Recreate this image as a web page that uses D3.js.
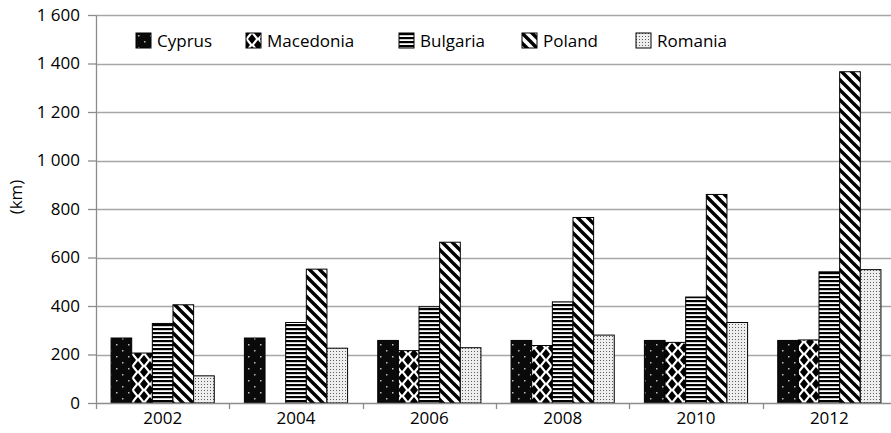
<!DOCTYPE html>
<html>
<head>
<meta charset="utf-8">
<script src="https://cdn.jsdelivr.net/npm/d3@7/dist/d3.min.js"></script>
<style>
  html, body { margin: 0; padding: 0; background: #fff; }
  svg { display: block; }
  text { font-family: "Open Sans", "Noto Sans", sans-serif; fill: #000; }
</style>
</head>
<body>
<svg id="chart" width="891" height="433"></svg>
<script>
// Length of network (km) by country and year
const years = ["2002", "2004", "2006", "2008", "2010", "2012"];
const countries = ["Cyprus", "Macedonia", "Bulgaria", "Poland", "Romania"];
const cyprus    = [268, 268, 258, 258, 258, 258];
const macedonia = [206, null, 216, 237, 250, 260];
const bulgaria  = [328, 332, 397, 417, 437, 541];
const poland    = [405, 552, 663, 765, 860, 1366];
const romania   = [112, 226, 228, 280, 332, 550];
const yTicks = [0, 200, 400, 600, 800, 1000, 1200, 1400, 1600];

(function () {
  const seriesValues = [cyprus, macedonia, bulgaria, poland, romania];
  const rows = [];
  years.forEach((yr, i) => {
    countries.forEach((c, j) => {
      const v = seriesValues[j][i];
      if (v != null) rows.push({ year: yr, country: c, value: v });
    });
  });

  const W = 891;
  const mLeft = 96, mRight = 896, mTop = 15, mBottom = 403;
  const fontSize = 17;
  const svg = d3.select("#chart");

  // Fill patterns, one per country
  const defs = svg.append("defs");
  const patId = c => "pat-" + c.toLowerCase();

  // Cyprus: black with small light dots
  let p = defs.append("pattern").attr("id", patId("Cyprus"))
    .attr("patternUnits", "userSpaceOnUse").attr("width", 12).attr("height", 12);
  p.append("rect").attr("width", 12).attr("height", 12).attr("fill", "#0a0a0a");
  p.append("rect").attr("x", 2).attr("y", 2).attr("width", 1.5).attr("height", 1.5).attr("fill", "#bbb");
  p.append("rect").attr("x", 8).attr("y", 8).attr("width", 1.5).attr("height", 1.5).attr("fill", "#bbb");

  // Macedonia: solid diamonds
  p = defs.append("pattern").attr("id", patId("Macedonia"))
    .attr("patternUnits", "userSpaceOnUse").attr("width", 12).attr("height", 12);
  p.append("rect").attr("width", 12).attr("height", 12).attr("fill", "#fff");
  p.append("path").attr("fill", "#000")
    .attr("d", "M6,1 L10,6 L6,11 L2,6 Z M0,-5 L4,0 L0,5 L-4,0 Z M12,-5 L16,0 L12,5 L8,0 Z M0,7 L4,12 L0,17 L-4,12 Z M12,7 L16,12 L12,17 L8,12 Z");

  // Bulgaria: horizontal stripes
  p = defs.append("pattern").attr("id", patId("Bulgaria"))
    .attr("patternUnits", "userSpaceOnUse").attr("width", 8).attr("height", 4);
  p.append("rect").attr("width", 8).attr("height", 4).attr("fill", "#fff");
  p.append("rect").attr("y", 0).attr("width", 8).attr("height", 2.2).attr("fill", "#000");

  // Poland: wide downward diagonal stripes
  p = defs.append("pattern").attr("id", patId("Poland"))
    .attr("patternUnits", "userSpaceOnUse").attr("width", 10).attr("height", 10);
  p.append("rect").attr("width", 10).attr("height", 10).attr("fill", "#fff");
  p.append("path").attr("stroke", "#000").attr("stroke-width", 3.4)
    .attr("d", "M-5,-5 L15,15 M-5,5 L5,15 M5,-5 L15,5");

  // Romania: fine dotted grid
  p = defs.append("pattern").attr("id", patId("Romania"))
    .attr("patternUnits", "userSpaceOnUse").attr("width", 3).attr("height", 3);
  p.append("rect").attr("width", 3).attr("height", 3).attr("fill", "#eeeeee");
  p.append("rect").attr("width", 1).attr("height", 1).attr("fill", "#5e5e5e");

  // Scales
  const x0 = d3.scaleBand().domain(years).range([mLeft, mRight]).paddingInner(0).paddingOuter(0);
  const x1 = d3.scaleBand().domain(countries).range([0, x0.bandwidth()]).paddingInner(0).paddingOuter(0.73);
  const y = d3.scaleLinear().domain([0, 1600]).range([mBottom, mTop]);

  const locale = d3.formatLocale({ decimal: ",", thousands: "\u00a0", grouping: [3], currency: ["", ""] });
  const fmt = locale.format(",");

  // Horizontal gridlines
  svg.append("g").selectAll("line").data(yTicks.filter(d => d > 0)).join("line")
    .attr("x1", mLeft).attr("x2", W)
    .attr("y1", d => Math.round(y(d)) + 0.5).attr("y2", d => Math.round(y(d)) + 0.5)
    .attr("stroke", "#a6a6a6").attr("stroke-width", 1.3);

  // Bars
  svg.append("g").selectAll("rect").data(rows).join("rect")
    .attr("x", d => x0(d.year) + x1(d.country))
    .attr("y", d => y(d.value))
    .attr("width", x1.bandwidth())
    .attr("height", d => mBottom - y(d.value))
    .attr("fill", d => `url(#${patId(d.country)})`)
    .attr("stroke", "#000").attr("stroke-width", 1);

  // Y axis
  const yAxis = svg.append("g").attr("transform", `translate(${mLeft},0)`)
    .call(d3.axisLeft(y).tickValues(yTicks).tickFormat(fmt).tickSizeInner(8).tickSizeOuter(0).tickPadding(8));
  yAxis.select(".domain").attr("stroke", "#8c8c8c").attr("stroke-width", 1.3);
  yAxis.selectAll(".tick line").attr("stroke", "#8c8c8c").attr("stroke-width", 1.3);
  yAxis.selectAll(".tick text").attr("font-size", fontSize).attr("font-family", null);

  // X axis: baseline, category separators and labels
  const xAxis = svg.append("g").attr("transform", `translate(0,${mBottom})`)
    .call(d3.axisBottom(x0).tickSize(0).tickPadding(9));
  xAxis.select(".domain").remove();
  xAxis.selectAll(".tick text").attr("font-size", fontSize).attr("font-family", null);
  svg.append("line").attr("x1", mLeft).attr("x2", W).attr("y1", mBottom + 0.5).attr("y2", mBottom + 0.5)
    .attr("stroke", "#8c8c8c").attr("stroke-width", 1.3);
  const bounds = years.map(d => x0(d)).concat([x0(years[years.length - 1]) + x0.bandwidth()]);
  svg.append("g").selectAll("line").data(bounds).join("line")
    .attr("x1", d => Math.round(d) + 0.5).attr("x2", d => Math.round(d) + 0.5)
    .attr("y1", mBottom).attr("y2", mBottom + 6)
    .attr("stroke", "#8c8c8c").attr("stroke-width", 1.3);

  // Y axis title
  svg.append("text").attr("transform", "translate(22,197) rotate(-90)")
    .attr("text-anchor", "middle").attr("font-size", fontSize).text("(km)");

  // Legend
  const legendX = [136, 246, 399, 522, 636];
  const leg = svg.append("g").selectAll("g").data(countries).join("g")
    .attr("transform", (d, i) => `translate(${legendX[i]},33)`);
  leg.append("rect").attr("width", 15).attr("height", 15)
    .attr("fill", d => `url(#${patId(d)})`).attr("stroke", "#000").attr("stroke-width", 1);
  leg.append("text").attr("x", 21).attr("y", 8).attr("dy", "0.35em")
    .attr("font-size", fontSize).text(d => d);
})();
</script>
</body>
</html>
